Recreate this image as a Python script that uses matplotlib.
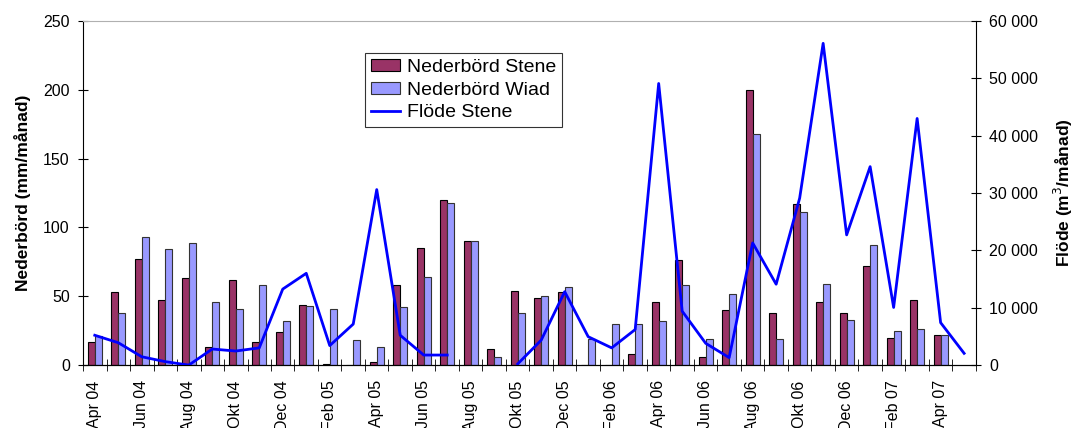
"""
    Nederbörd och flöde, Stene / Wiad
"""
import numpy as np
import matplotlib
matplotlib.use("Agg")
import matplotlib.pyplot as plt
from matplotlib.ticker import FuncFormatter, MultipleLocator

plt.rcParams['font.family'] = ['Liberation Sans', 'DejaVu Sans']

months = ["Apr 04", "Maj 04", "Jun 04", "Jul 04", "Aug 04", "Sep 04", "Okt 04", "Nov 04",
          "Dec 04", "Jan 05", "Feb 05", "Mar 05", "Apr 05", "Maj 05", "Jun 05", "Jul 05",
          "Aug 05", "Sep 05", "Okt 05", "Nov 05", "Dec 05", "Jan 06", "Feb 06", "Mar 06",
          "Apr 06", "Maj 06", "Jun 06", "Jul 06", "Aug 06", "Sep 06", "Okt 06", "Nov 06",
          "Dec 06", "Jan 07", "Feb 07", "Mar 07", "Apr 07", "Maj 07"]

# mm/månad
nederbord_stene = [17, 53, 77, 47, 63, 13, 62, 17,
                   24, 44, 1, 0, 2, 58, 85, 120,
                   90, 12, 54, 49, 53, 0, 0, 8,
                   46, 76, 6, 40, 200, 38, 117, 46,
                   38, 72, 20, 47, 22, np.nan]
nederbord_wiad = [21, 38, 93, 84, 89, 46, 41, 58,
                  32, 43, 41, 18, 13, 42, 64, 118,
                  90, 6, 38, 50, 57, 19, 30, 30,
                  32, 58, 19, 52, 168, 19, 111, 59,
                  33, 87, 25, 26, 22, np.nan]
# m3/månad
flode_stene = [5200, 3900, 1450, 600, 0, 2800, 2450, 3000,
               13250, 16000, 3400, 7150, 30600, 5200, 1750, 1750,
               np.nan, np.nan, 200, 4350, 12800, 4950, 3000, 6200,
               49100, 9400, 3800, 1300, 21300, 14100, 29100, 56100,
               22700, 34600, 10050, 43000, 7400, 2050]

fig = plt.figure(figsize=(10.77, 4.28), dpi=100)
ax = fig.add_axes([0.0771, 0.147, 0.829, 0.804])

x = np.arange(len(months))
w = 0.3
ax.bar(x - w / 2, nederbord_stene, w, color="#993366", edgecolor="black",
       linewidth=0.8, label="Nederbörd Stene", zorder=2)
ax.bar(x + w / 2, nederbord_wiad, w, color="#9999FF", edgecolor="#333333",
       linewidth=0.8, label="Nederbörd Wiad", zorder=2)

ax.set_xlim(-0.5, len(months) - 0.5)
ax.set_ylim(0, 250)
ax.yaxis.set_major_locator(MultipleLocator(50))
ax.set_ylabel("Nederbörd (mm/månad)", fontsize=12.5, fontweight="bold", labelpad=9)
ax.tick_params(axis="y", direction="inout", length=7, labelsize=11.5, pad=6)

ax.set_xticks(x[::2])
ax.set_xticklabels(months[::2], rotation=90, fontsize=11.5)
ax.set_xticks(np.arange(len(months) + 1) - 0.5, minor=True)
ax.tick_params(axis="x", which="major", length=0, pad=11)
ax.tick_params(axis="x", which="minor", direction="inout", length=8)

ax.spines["top"].set_color("#b0b0b0")
ax.spines["right"].set_visible(False)

ax2 = ax.twinx()
ax2.plot(x, flode_stene, color="#0000FF", linewidth=2, label="Flöde Stene", zorder=3)
ax2.set_ylim(0, 60000)
ax2.yaxis.set_major_locator(MultipleLocator(10000))
ax2.yaxis.set_major_formatter(FuncFormatter(lambda v, p: f"{int(v):,}".replace(",", " ")))
ax2.tick_params(axis="y", direction="inout", length=7, labelsize=11.5, pad=6)
ax2.set_ylabel("Flöde (m$^3$/månad)", fontsize=12.5, fontweight="bold", labelpad=10)
ax2.spines["top"].set_visible(False)
ax2.spines["left"].set_visible(False)

h1, l1 = ax.get_legend_handles_labels()
h2, l2 = ax2.get_legend_handles_labels()
leg = ax2.legend(h1 + h2, l1 + l2, loc="upper left", bbox_to_anchor=(0.316, 0.907),
                 fontsize=14, frameon=True, fancybox=False, edgecolor="black",
                 borderaxespad=0, borderpad=0.3, handlelength=1.5, handleheight=0.55,
                 handletextpad=0.35, labelspacing=0.3)
leg.get_frame().set_linewidth(0.8)

fig.savefig("out.png", dpi=100)
